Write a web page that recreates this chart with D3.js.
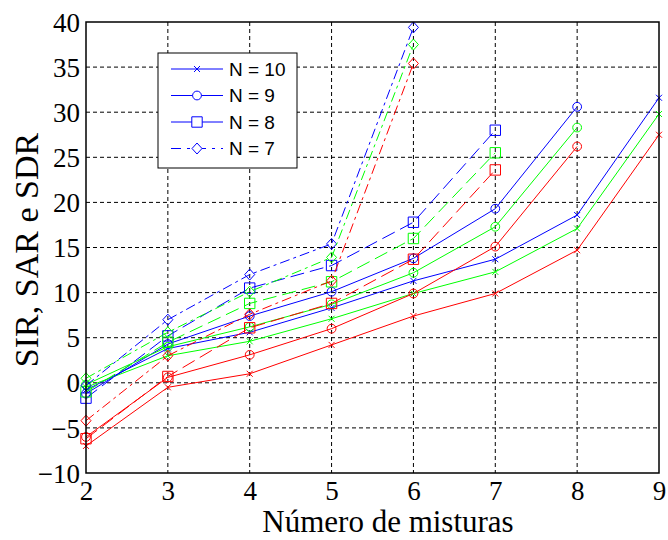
<!DOCTYPE html>
<html>
<head>
<meta charset="utf-8">
<script src="https://cdn.jsdelivr.net/npm/d3@7"></script>
<style>
  body { margin: 0; background: #fff; }
  .serif { font-family: "Liberation Serif", "Times New Roman", Times, serif; }
</style>
</head>
<body>
<div id="chart"></div>
<script>
// x values (number of mixtures)
const mixtures = [2, 3, 4, 5, 6, 7, 8, 9];
const xTicks = [2, 3, 4, 5, 6, 7, 8, 9];
const yTicks = [-10, -5, 0, 5, 10, 15, 20, 25, 30, 35, 40];

// blue = SIR, green = SAR, red = SDR
const sirN10 = [-0.8, 3.8, 5.6, 8.3, 11.3, 13.7, 18.6, 31.6];
const sarN10 = [-0.5, 3.0, 4.6, 7.1, 9.9, 12.3, 17.1, 29.8];
const sdrN10 = [-7.0, -0.5, 1.0, 4.2, 7.4, 9.9, 14.7, 27.5];

const sirN9 = [-1.2, 4.3, 7.4, 10.1, 13.8, 19.3, 30.6];
const sarN9 = [-0.2, 4.0, 6.2, 8.7, 12.2, 17.3, 28.3];
const sdrN9 = [-6.0, 0.6, 3.1, 6.0, 9.9, 15.1, 26.2];

const sirN8 = [-1.7, 5.2, 10.5, 13.0, 17.8, 28.0];
const sarN8 = [-1.0, 4.5, 8.8, 11.2, 16.0, 25.5];
const sdrN8 = [-6.2, 0.7, 6.1, 8.8, 13.7, 23.6];

const sirN7 = [-0.3, 7.0, 12.0, 15.4, 39.4];
const sarN7 = [0.5, 5.6, 10.1, 13.9, 37.5];
const sdrN7 = [-4.2, 3.0, 7.6, 11.3, 35.4];

const legendLabels = ["N = 10", "N = 9", "N = 8", "N = 7"];
const colors = ["#0000ff", "#00ff00", "#ff0000"];

const series = [
  { label: legendLabels[0], marker: "x", dash: null, legendDash: null, values: [sirN10, sarN10, sdrN10] },
  { label: legendLabels[1], marker: "o", dash: null, legendDash: null, values: [sirN9, sarN9, sdrN9] },
  { label: legendLabels[2], marker: "s", dash: "14,6", legendDash: null, values: [sirN8, sarN8, sdrN8] },
  { label: legendLabels[3], marker: "d", dash: "10,4,3,4", legendDash: "10,6,3,6", values: [sirN7, sarN7, sdrN7] }
];

const W = 668, H = 540;
const margin = { top: 22, right: 9, bottom: 67, left: 86 };
const width = W - margin.left - margin.right;
const height = H - margin.top - margin.bottom;

const svg = d3.select("#chart").append("svg")
  .attr("width", W)
  .attr("height", H);

const g = svg.append("g")
  .attr("transform", `translate(${margin.left},${margin.top})`);

const x = d3.scaleLinear().domain([2, 9]).range([0, width]);
const y = d3.scaleLinear().domain([-10, 40]).range([height, 0]);

// grid
g.append("g")
  .selectAll("line")
  .data(xTicks.slice(1, -1))
  .enter().append("line")
    .attr("x1", d => x(d)).attr("x2", d => x(d))
    .attr("y1", 0).attr("y2", height)
    .attr("stroke", "#000")
    .attr("stroke-dasharray", "4,3");

g.append("g")
  .selectAll("line")
  .data(yTicks.slice(1, -1))
  .enter().append("line")
    .attr("x1", 0).attr("x2", width)
    .attr("y1", d => y(d)).attr("y2", d => y(d))
    .attr("stroke", "#000")
    .attr("stroke-dasharray", "4,3");

// marker shapes
const markerPath = (type) => {
  if (type === "x") return "M-3,-3L3,3M-3,3L3,-3";
  if (type === "o") return "M4.4,0A4.4,4.4 0 1,1 -4.4,0A4.4,4.4 0 1,1 4.4,0Z";
  if (type === "s") return "M-5.2,-5.2H5.2V5.2H-5.2Z";
  return "M0,-5.5L5,0L0,5.5L-5,0Z";
};

const line = d3.line()
  .x((d, i) => x(mixtures[i]))
  .y(d => y(d));

series.forEach(s => {
  s.values.forEach((vals, k) => {
    g.append("path")
      .datum(vals)
      .attr("d", line)
      .attr("fill", "none")
      .attr("stroke", colors[k])
      .attr("stroke-width", 1)
      .attr("stroke-dasharray", s.dash);

    g.selectAll(null)
      .data(vals)
      .enter().append("path")
        .attr("transform", (d, i) => `translate(${x(mixtures[i])},${y(d)})`)
        .attr("d", markerPath(s.marker))
        .attr("fill", "none")
        .attr("stroke", colors[k])
        .attr("stroke-width", 1);
  });
});

// frame
g.append("rect")
  .attr("width", width)
  .attr("height", height)
  .attr("fill", "none")
  .attr("stroke", "#000")
  .attr("stroke-width", 1.5);

// axes (labels only)
const xAxis = g.append("g")
  .attr("transform", `translate(0,${height})`)
  .call(d3.axisBottom(x).tickValues(xTicks).tickSize(0).tickPadding(8).tickFormat(d3.format("d")));
const yAxis = g.append("g")
  .call(d3.axisLeft(y).tickValues(yTicks).tickSize(0).tickPadding(6).tickFormat(d3.format("d")));

[xAxis, yAxis].forEach(a => {
  a.attr("font-family", null).attr("font-size", null);
  a.select(".domain").remove();
  a.selectAll("text")
    .attr("class", "serif")
    .attr("fill", "#000")
    .attr("font-size", 27);
});
xAxis.selectAll("text").attr("dy", "0.7em");
yAxis.selectAll("text").attr("dy", "0.34em");

// axis titles
svg.append("text")
  .attr("class", "serif")
  .attr("x", 388)
  .attr("y", 532)
  .attr("text-anchor", "middle")
  .attr("font-size", 31)
  .text("Número de misturas");

svg.append("text")
  .attr("class", "serif")
  .attr("transform", "rotate(-90)")
  .attr("x", -250)
  .attr("y", 38)
  .attr("text-anchor", "middle")
  .attr("font-size", 34)
  .text("SIR, SAR e SDR");

// legend
const legend = svg.append("g").attr("transform", "translate(158,53)");
legend.append("rect")
  .attr("width", 139)
  .attr("height", 115)
  .attr("fill", "#fff")
  .attr("stroke", "#000")
  .attr("stroke-width", 1);

const rows = legend.selectAll(".row")
  .data(series)
  .enter().append("g")
    .attr("transform", (d, i) => `translate(0,${16 + i * 26.5})`);

rows.append("line")
  .attr("x1", 13).attr("x2", 65)
  .attr("stroke", colors[0])
  .attr("stroke-width", 1)
  .attr("stroke-dasharray", d => d.legendDash);

rows.append("path")
  .attr("transform", "translate(39,0)")
  .attr("d", d => markerPath(d.marker))
  .attr("fill", d => d.marker === "x" ? "none" : "#fff")
  .attr("stroke", colors[0]);

rows.append("text")
  .attr("x", 71)
  .attr("dy", "0.35em")
  .attr("font-family", "'Liberation Sans', Arial, sans-serif")
  .attr("font-size", 19)
  .text(d => d.label);
</script>
</body>
</html>
